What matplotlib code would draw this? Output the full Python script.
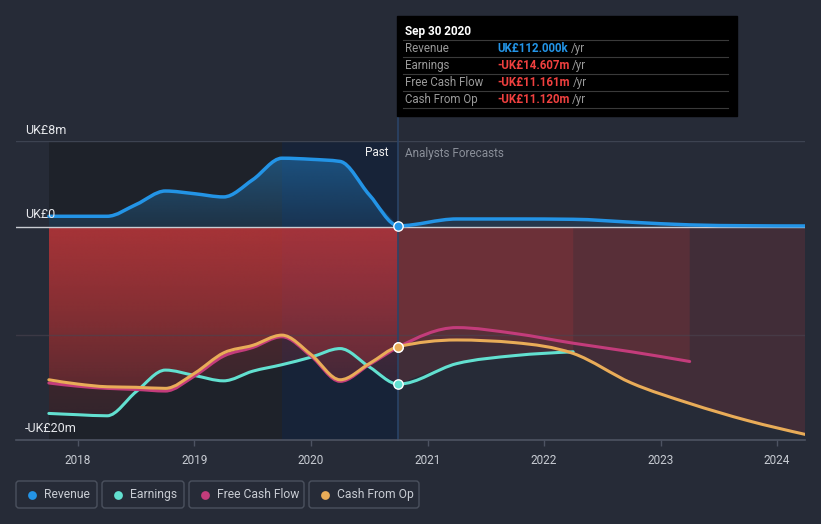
import numpy as np
import matplotlib
matplotlib.use("Agg")
import matplotlib.pyplot as plt
import matplotlib.colors as mcolors
from matplotlib.patches import FancyBboxPatch, Rectangle, PathPatch
from matplotlib.path import Path

plt.rcParams['font.family'] = ['Roboto', 'DejaVu Sans']

# ---- data (UK£ m) ----
past_x = [2017.75, 2018.0, 2018.25, 2018.5, 2018.75, 2019.0, 2019.25,
          2019.5, 2019.75, 2020.0, 2020.25, 2020.5, 2020.75]
rev_past = [1.0, 1.0, 1.0, 2.1, 3.35, 3.1, 2.8, 4.4, 6.4, 6.3, 6.1, 3.0, 0.112]
earn_past = [-17.33, -17.45, -17.55, -15.3, -13.3, -13.8, -14.3, -13.4,
             -12.8, -12.1, -11.3, -13.0, -14.607]
fcf_past = [-14.5, -14.8, -15.0, -15.1, -15.25, -13.85, -12.0, -11.2,
            -10.2, -12.0, -14.35, -12.8, -11.161]
cfo_past = [-14.2, -14.6, -14.85, -14.9, -15.0, -13.6, -11.7, -11.0,
            -10.05, -11.85, -14.2, -12.7, -11.12]

fc_x = [2020.75, 2021.25, 2021.75, 2022.25, 2022.75, 2023.25, 2023.75, 2024.25]
rev_fc = [0.112, 0.75, 0.75, 0.72, 0.45, 0.2, 0.12, 0.1]
earn_fc = [-14.607, -12.7, -11.95, -11.6]
fcf_fc = [-11.161, -9.35, -9.9, -10.8, -11.6, -12.5]
cfo_fc = [-11.12, -10.5, -10.75, -11.75, -14.5, -16.4, -18.0, -19.3]

years = [2018, 2019, 2020, 2021, 2022, 2023, 2024]

tip_rows = ["Revenue", "Earnings", "Free Cash Flow", "Cash From Op"]
tip_vals = ["UK£112.000k", "-UK£14.607m", "-UK£11.161m", "-UK£11.120m"]

# ---- colours ----
BG = '#262b37'
PAST_BG = '#1e222a'
HL_BG = '#172338'
C_REV = '#2394e6'
C_EARN = '#62e0d0'
C_FCF = '#c33c7b'
C_CFO = '#e9ac58'
RED = '#e23c3e'

W, H = 821, 524
fig = plt.figure(figsize=(W / 100, H / 100), dpi=100, facecolor=BG)
ax = fig.add_axes([16 / W, 1 - 440 / H, (805 - 16) / W, (440 - 141) / H])
ax.set_facecolor(BG)

XL = (2017.468, 2024.24)
YL = (-19.8, 8.0)


def curve(x, y):
    # monotone cubic bezier through the points (like d3 curveMonotoneX)
    x = np.asarray(x, float)
    y = np.asarray(y, float)
    n = len(x)
    h = np.diff(x)
    s = np.diff(y) / h
    t = np.zeros(n)
    for i in range(1, n - 1):
        p = (s[i - 1] * h[i] + s[i] * h[i - 1]) / (h[i - 1] + h[i])
        t[i] = (np.sign(s[i - 1]) + np.sign(s[i])) * min(abs(s[i - 1]), abs(s[i]), 0.5 * abs(p))
    t[0] = (3 * s[0] - t[1]) / 2
    t[-1] = (3 * s[-1] - t[-2]) / 2
    verts = [(x[0], y[0])]
    codes = [Path.MOVETO]
    for i in range(n - 1):
        d = h[i] / 3
        verts += [(x[i] + d, y[i] + t[i] * d), (x[i + 1] - d, y[i + 1] - t[i + 1] * d),
                  (x[i + 1], y[i + 1])]
        codes += [Path.CURVE4] * 3
    return verts, codes


def area_path(x, y):
    verts, codes = curve(x, y)
    verts = verts + [(x[-1], 0), (x[0], 0), (x[0], y[0])]
    codes = codes + [Path.LINETO, Path.LINETO, Path.CLOSEPOLY]
    return Path(verts, codes)


def gradient_fill(x, y, color, a_zero, a_far, z):
    # alpha a_zero at the zero line, a_far at the far end of the area
    path = area_path(x, y)
    img = np.zeros((200, 1, 4))
    img[..., :3] = mcolors.to_rgb(color)
    if max(y) > 0:
        ext = [min(x), max(x), 0, max(y) * 1.05]
        img[:, 0, 3] = np.linspace(a_zero, a_far, 200)
    else:
        ext = [min(x), max(x), min(y) * 1.05, 0]
        img[:, 0, 3] = np.linspace(a_far, a_zero, 200)
    im = ax.imshow(img, aspect='auto', origin='lower', extent=ext, zorder=z,
                   interpolation='bilinear')
    im.set_clip_path(path, transform=ax.transData)


def line(x, y, color, lw, z):
    verts, codes = curve(x, y)
    ax.add_patch(PathPatch(Path(verts, codes), fc='none', ec=color, lw=lw,
                           capstyle='round', joinstyle='round', zorder=z))


# past backgrounds
ax.axvspan(past_x[0], past_x[-1], color=PAST_BG, lw=0, zorder=0)
ax.axvspan(2019.75, past_x[-1], color=HL_BG, lw=0, zorder=0.5)

# revenue fill (blue gradient)
gradient_fill(past_x, rev_past, C_REV, 0.15, 0.42, 1)
ax.add_patch(PathPatch(area_path(fc_x, rev_fc), fc=C_REV, alpha=0.12, lw=0, zorder=1))

# red fills of the negative series
for ser in (earn_past, fcf_past, cfo_past):
    gradient_fill(past_x, ser, RED, 0.33, 0.1, 1.5)
for ser in (earn_fc, fcf_fc, cfo_fc):
    ax.add_patch(PathPatch(area_path(fc_x[:len(ser)], ser), fc=RED, alpha=0.15,
                           lw=0, zorder=1.5))

# grid and zero line
ax.axhline(8, color='#3d4351', lw=1, zorder=2)
ax.axhline(-10, color='#4a4450', lw=1, alpha=0.6, zorder=2)
ax.axhline(0, color='#c9ccd2', lw=1, zorder=3)

# now line
ax.plot([2020.75, 2020.75], [YL[0], 10.33], color='#2a4468', lw=1.2,
        clip_on=False, zorder=2.5)

# series lines
line(past_x + fc_x[1:len(earn_fc)], earn_past + earn_fc[1:], C_EARN, 2.2, 4)
line(past_x + fc_x[1:len(fcf_fc)], fcf_past + fcf_fc[1:], C_FCF, 2.2, 4.1)
line(past_x + fc_x[1:], cfo_past + cfo_fc[1:], C_CFO, 2.2, 4.2)
line(past_x + fc_x[1:], rev_past + rev_fc[1:], C_REV, 2.5, 4.3)

# markers at the "now" point
for val, col in ((earn_past[-1], C_EARN), (fcf_past[-1], C_FCF),
                 (cfo_past[-1], C_CFO), (rev_past[-1], C_REV)):
    ax.scatter([past_x[-1]], [val], s=45, color=col, edgecolor='white', lw=1, zorder=6)

ax.set_xlim(*XL)
ax.set_ylim(*YL)
for s in ('top', 'left', 'right'):
    ax.spines[s].set_visible(False)
ax.spines['bottom'].set_color('#4d5362')
ax.spines['bottom'].set_linewidth(1.2)
ax.set_xticks(years)
ax.set_xticklabels([str(y) for y in years])
ax.set_yticks([])
ax.tick_params(axis='x', length=4, width=1, color='#4d5362', labelcolor='#c8ccd3',
               labelsize=8.5, pad=6)

# ---- overlay in pixel coordinates ----
ov = fig.add_axes([0, 0, 1, 1], zorder=10)
ov.set_xlim(0, W)
ov.set_ylim(H, 0)
ov.axis('off')

ov.text(25, 130, "UK£8m", color='#e6e8ec', fontsize=9, va='center')
ov.text(25, 215, "UK£0", color='#e6e8ec', fontsize=9, va='center')
ov.text(25, 429, "-UK£20m", color='#e6e8ec', fontsize=9, va='center')
ov.text(389, 153, "Past", color='#f0f0f0', fontsize=8.5, va='center', ha='right')
ov.text(405, 153, "Analysts Forecasts", color='#8a8f99', fontsize=8.5, va='center')

# tooltip
ov.add_patch(Rectangle((397, 16), 340, 100, color='black', zorder=1))
ov.text(405, 31, "Sep 30 2020", color='white', fontsize=8.5, fontweight='bold',
        va='center', zorder=2)
for ly in (40.3, 57.3, 74.3, 91.3, 108.3):
    ov.plot([403, 728], [ly, ly], color='#3a3a3a', lw=0.8, zorder=2)
fig.canvas.draw()
renderer = fig.canvas.get_renderer()
for i, (lab, val) in enumerate(zip(tip_rows, tip_vals)):
    yy = 48.5 + 17 * i
    ov.text(405, yy, lab, color='#9a9a9a', fontsize=8.3, va='center', zorder=2)
    t = ov.text(497, yy, val, color=C_REV if i == 0 else '#f0403f', fontsize=8.3,
                fontweight='bold', va='center', zorder=2)
    bb = t.get_window_extent(renderer)
    ov.text(497 + bb.width + 3, yy, "/yr", color='#9a9a9a', fontsize=8.3,
            va='center', zorder=2)

# legend
legend_items = [("Revenue", C_REV, 16, 97), ("Earnings", C_EARN, 102, 184),
                ("Free Cash Flow", C_FCF, 189, 304), ("Cash From Op", C_CFO, 309, 419)]
for lab, col, x0, x1 in legend_items:
    ov.add_patch(FancyBboxPatch((x0, 481), x1 - x0, 27,
                                boxstyle="round,pad=0,rounding_size=3",
                                fc='none', ec='#4b515e', lw=1))
    ov.scatter([x0 + 16], [494.5], s=40, color=col, lw=0)
    ov.text(x0 + 28, 494.5, lab, color='#c8ccd3', fontsize=8.7, va='center')

fig.savefig("out.png", dpi=100, facecolor=BG)
